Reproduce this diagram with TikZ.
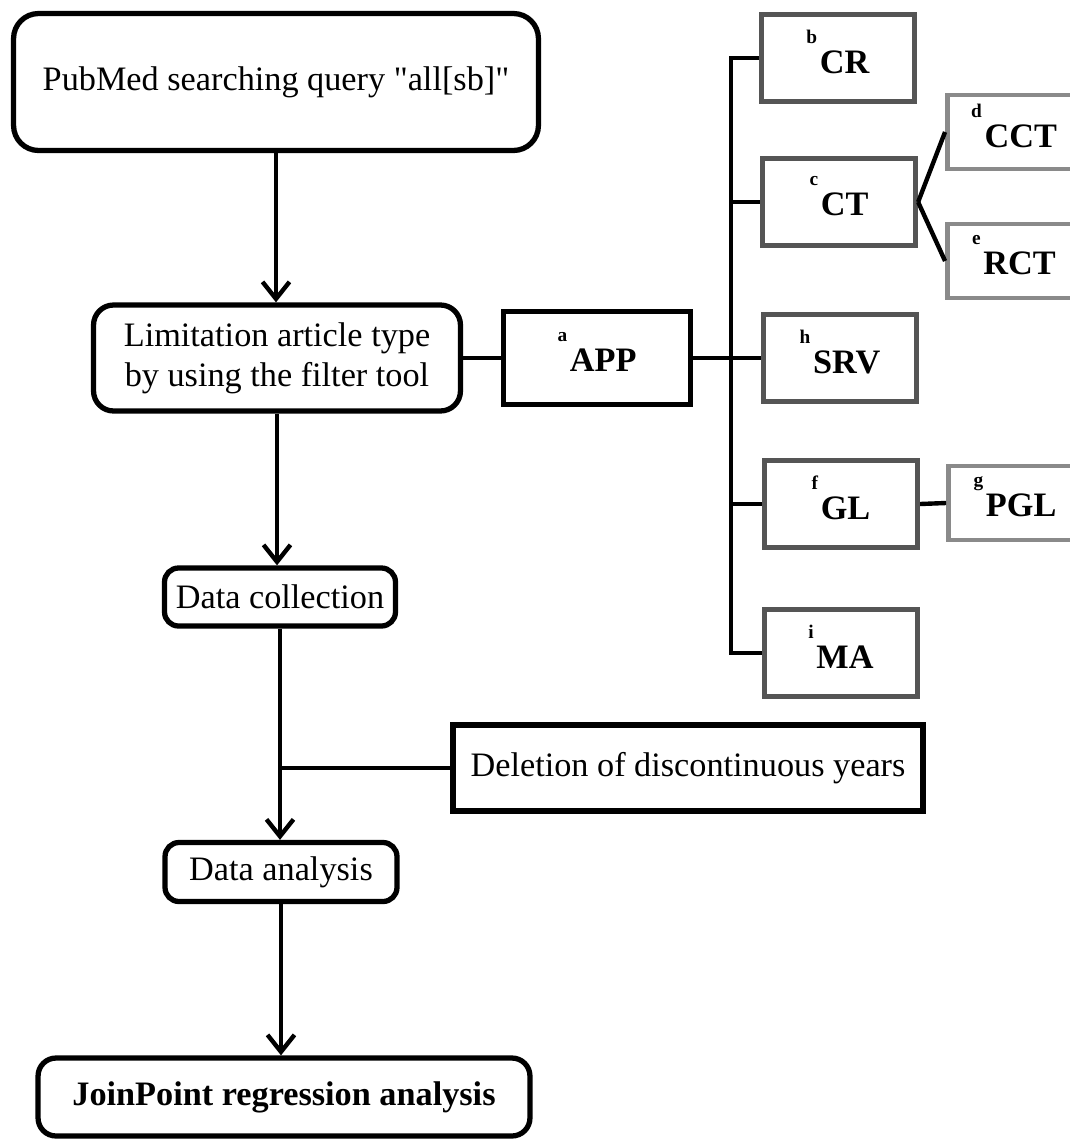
\documentclass[tikz,border=0pt]{standalone}
\usepackage{fontspec}
\setmainfont{Liberation Serif}
\usetikzlibrary{arrows.meta}
\definecolor{typegray}{HTML}{555555}
\definecolor{subgray}{HTML}{8A8A8A}
\newcommand\artlab[2]{\raisebox{17pt}{\fontsize{11}{11}\selectfont\bfseries #1}\hspace{1.5pt}\textbf{#2}\rule[-7pt]{0pt}{7pt}}
\begin{document}
\begin{tikzpicture}[x=0.02cm, y=-0.02cm, font=\fontsize{19.5}{22.7}\selectfont,
          >={Straight Barb[length=3.4mm, width=5.4mm]},
          flowbox/.style={draw, line width=3pt, align=center, inner sep=2pt},
          typebox/.style={draw=typegray, line width=3pt, minimum width=3.06cm, minimum height=1.74cm},
          subbox/.style={draw=subgray, line width=2.8pt, minimum width=2.66cm, minimum height=1.48cm},
          notebox/.style={draw, line width=3pt},
          link/.style={line width=2.5pt}]
        \useasboundingbox (0,0) rectangle (1070,1144);
        \node[flowbox, rounded corners=0.5cm, minimum width=10.5cm, minimum height=2.74cm] (query) at (276,82) {PubMed searching query \textquotedbl all[sb]\textquotedbl};
        \node[flowbox, rounded corners=0.4cm, minimum width=7.34cm, minimum height=2.12cm] (limit) at (277,358) {Limitation article type\\by using the filter tool};
        \node[notebox, minimum width=3.74cm, minimum height=1.86cm] (app) at (597,358) {\artlab{a}{APP}};
        \node[typebox] (cr) at (838,58) {\artlab{b}{CR}};
        \node[typebox] (ct) at (839,202) {\artlab{c}{CT}};
        \node[subbox] (cct) at (1014,132) {\artlab{d}{CCT}};
        \node[subbox] (rct) at (1014,261) {\artlab{e}{RCT}};
        \node[typebox] (srv) at (840,358) {\artlab{h}{SRV}};
        \node[typebox] (gl) at (841,504) {\artlab{f}{GL}};
        \node[subbox] (pgl) at (1015,503) {\artlab{g}{PGL}};
        \node[typebox] (ma) at (841,653) {\artlab{i}{MA}};
        \node[flowbox, rounded corners=0.28cm, minimum width=4.62cm, minimum height=1.16cm] (dcol) at (280,597) {Data collection};
        \node[notebox, minimum width=9.4cm, minimum height=1.72cm] (del) at (688,768) {Deletion of discontinuous years};
        \node[flowbox, rounded corners=0.28cm, minimum width=4.64cm, minimum height=1.18cm] (dana) at (281,872) {Data analysis};
        \node[flowbox, rounded corners=0.36cm, minimum width=9.84cm, minimum height=1.56cm] (join) at (284,1097) {\textbf{JoinPoint regression analysis}};
        \coordinate (trunk) at (731,358);
        \draw[link, ->] (query.south) -- (query.south |- limit.north);
        \draw[link] (limit.east) -- (app.west);
        \draw[link] (app.east) -- (srv.west);
        \draw[link] (cr.west) -- (cr.west -| trunk) |- (ma.west);
        \foreach \t in {ct, gl} \draw[link] (\t.west) -- (\t.west -| trunk);
        \draw[link] (ct.east) -- (cct.west);
        \draw[link] (ct.east) -- (rct.west);
        \draw[link] (gl.east) -- (pgl.west);
        \draw[link, ->] (limit.south) -- (limit.south |- dcol.north);
        \draw[link, ->] (dcol.south) -- (dcol.south |- dana.north);
        \draw[link] (del.west) -- (del.west -| dcol.south);
        \draw[link, ->] (dana.south) -- (dana.south |- join.north);
      \end{tikzpicture}
\end{document}
